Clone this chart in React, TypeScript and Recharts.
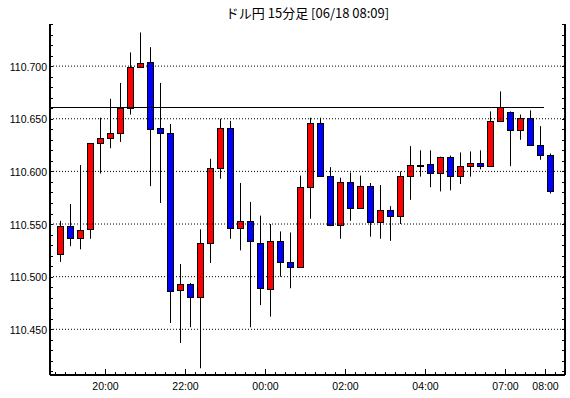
import React from "react";
import { ComposedChart, Bar, XAxis, YAxis, ReferenceLine } from "recharts";

const times = ["18:45","19:00","19:15","19:30","19:45","20:00","20:15","20:30","20:45","21:00","21:15","21:30","21:45","22:00","22:15","22:30","22:45","23:00","23:15","23:30","23:45","00:00","00:15","00:30","00:45","01:00","01:15","01:30","01:45","02:00","02:15","02:30","02:45","03:00","03:15","03:30","03:45","04:00","04:15","04:30","04:45","05:00","05:15","05:30","05:45","07:00","07:15","07:30","07:45","08:00"];

const opens = [110.522,110.548,110.537,110.545,110.627,110.632,110.636,110.660,110.699,110.704,110.641,110.636,110.487,110.493,110.481,110.532,110.603,110.641,110.546,110.553,110.532,110.488,110.534,110.514,110.509,110.585,110.646,110.596,110.549,110.590,110.565,110.586,110.552,110.563,110.558,110.596,110.606,110.607,110.598,110.614,110.596,110.605,110.608,110.605,110.648,110.656,110.639,110.651,110.625,110.616];
const highs = [110.553,110.569,110.606,110.627,110.651,110.669,110.684,110.713,110.732,110.718,110.684,110.645,110.512,110.494,110.545,110.612,110.650,110.648,110.589,110.571,110.558,110.550,110.543,110.542,110.596,110.651,110.651,110.604,110.594,110.599,110.596,110.589,110.587,110.567,110.600,110.624,110.620,110.620,110.614,110.615,110.618,110.619,110.620,110.657,110.676,110.657,110.654,110.658,110.643,110.617];
const lows = [110.514,110.529,110.526,110.536,110.598,110.622,110.628,110.654,110.699,110.586,110.570,110.456,110.437,110.452,110.413,110.513,110.593,110.536,110.525,110.452,110.473,110.462,110.500,110.489,110.509,110.555,110.595,110.548,110.536,110.553,110.565,110.538,110.536,110.534,110.550,110.573,110.595,110.585,110.581,110.582,110.588,110.595,110.602,110.605,110.647,110.605,110.630,110.625,110.611,110.579];
const closes = [110.548,110.537,110.544,110.627,110.632,110.636,110.660,110.699,110.703,110.640,110.636,110.486,110.493,110.481,110.532,110.603,110.641,110.546,110.553,110.534,110.489,110.534,110.514,110.509,110.585,110.646,110.596,110.549,110.590,110.565,110.586,110.552,110.563,110.558,110.596,110.606,110.6065,110.598,110.614,110.596,110.605,110.608,110.605,110.648,110.661,110.639,110.651,110.625,110.616,110.581];

const xLabels = ["20:00","22:00","00:00","02:00","04:00","07:00","08:00"];
const yTicks = [110.41,110.42,110.43,110.44,110.45,110.46,110.47,110.48,110.49,110.5,110.51,110.52,110.53,110.54,110.55,110.56,110.57,110.58,110.59,110.6,110.61,110.62,110.63,110.64,110.65,110.66,110.67,110.68,110.69,110.7,110.71,110.72,110.73,110.74];
const yLabels = ["110.450","110.500","110.550","110.600","110.650","110.700"];
const gridValues = [110.45,110.5,110.55,110.6,110.65,110.7];
const markerValue = 110.661;
const yDomain = [110.4066, 110.74];
const title = "ドル円 15分足 [06/18 08:09]";

const data = times.map((t, i) => ({
  t,
  o: opens[i],
  h: highs[i],
  l: lows[i],
  c: closes[i],
  range: [lows[i], highs[i]],
}));

const FONT = "'Liberation Sans', Arial, sans-serif";

const Candle = (props: any) => {
  const { x, y, width, height, payload } = props;
  if (x == null || y == null) return null;
  const top = Math.min(y, y + height);
  const hgt = Math.abs(height);
  const { o, h, l, c } = payload;
  const py = (v: number) => top + ((h - v) / (h - l)) * hgt;
  const cx = Math.round(x + width / 2) + 0.5;
  const up = c >= o;
  const yt = Math.round(py(Math.max(o, c))) + 0.5;
  let yb = Math.round(py(Math.min(o, c))) + 0.5;
  if (yb - yt < 1) yb = yt + 1;
  return (
    <g>
      <line x1={cx} x2={cx} y1={py(h)} y2={py(l)} stroke="#000" strokeWidth={1} />
      <rect x={cx - 3} y={yt} width={6} height={yb - yt} fill={up ? "#FF0000" : "#0000FF"} stroke="#000" strokeWidth={1} />
    </g>
  );
};

const BottomTick = (props: any) => {
  const { x, y, payload } = props;
  const t = payload.value;
  const bx = Math.round(x - 5) + 0.5;
  const major = xLabels.includes(t);
  const last = t === times[times.length - 1];
  return (
    <g>
      <line x1={bx} x2={bx} y1={y} y2={y - (major ? 6 : 3)} stroke="#000" strokeWidth={1} />
      {last && <line x1={bx + 10} x2={bx + 10} y1={y} y2={y - 3} stroke="#000" strokeWidth={1} />}
      {major && (
        <text x={bx} y={y + 15} textAnchor="middle" fontSize={10.5} fontFamily={FONT} fill="#000">
          {t}
        </text>
      )}
    </g>
  );
};

const TopTick = (props: any) => {
  const { x, y, payload } = props;
  const t = payload.value;
  const bx = Math.round(x - 5) + 0.5;
  const major = xLabels.includes(t);
  const last = t === times[times.length - 1];
  return (
    <g>
      <line x1={bx} x2={bx} y1={y} y2={y + (major ? 6 : 3)} stroke="#000" strokeWidth={1} />
      {last && <line x1={bx + 10} x2={bx + 10} y1={y} y2={y + 3} stroke="#000" strokeWidth={1} />}
    </g>
  );
};

const LeftTick = (props: any) => {
  const { x, y, payload } = props;
  const lab = Number(payload.value).toFixed(3);
  const yy = Math.round(y) + 0.5;
  return (
    <g>
      <line x1={x} x2={x + 3} y1={yy} y2={yy} stroke="#000" strokeWidth={1} />
      {yLabels.includes(lab) && (
        <text x={x - 3} y={y + 4.5} textAnchor="end" fontSize={10.5} fontFamily={FONT} fill="#000">
          {lab}
        </text>
      )}
    </g>
  );
};

const RightTick = (props: any) => {
  const { x, y } = props;
  const yy = Math.round(y) + 0.5;
  return <line x1={x} x2={x - 3} y1={yy} y2={yy} stroke="#000" strokeWidth={1} />;
};

const MarkerShape = (props: any) => {
  const { x1, y1, x2 } = props;
  const yy = Math.round(y1) + 0.5;
  return <line x1={x1} x2={x2 - 21} y1={yy} y2={yy} stroke="#000" strokeWidth={1} />;
};

export default function App() {
  return (
    <div style={{ position: "absolute", left: 0, top: 0, width: 570, height: 398, background: "#fff" }}>
      <svg width={570} height={24} style={{ position: "absolute", left: 0, top: 0 }}>
        <text x={307.5} y={18} textAnchor="middle" fontSize={13} fontFamily="'Noto Sans CJK JP', sans-serif" fill="#000">
          {title}
        </text>
      </svg>
      <div style={{ position: "absolute", left: 0, top: 0 }}>
        <ComposedChart width={570} height={398} data={data} margin={{ top: 24, right: 0, bottom: 0, left: 0 }}>
          <XAxis
            xAxisId={0}
            dataKey="t"
            type="category"
            orientation="bottom"
            height={23}
            padding={{ left: 5, right: 10 }}
            interval={0}
            tickLine={false}
            tickSize={0}
            tickMargin={0}
            axisLine={{ stroke: "#000", strokeWidth: 2 }}
            tick={<BottomTick />}
          />
          <XAxis
            xAxisId="top"
            dataKey="t"
            type="category"
            orientation="top"
            height={0}
            padding={{ left: 5, right: 10 }}
            interval={0}
            tickLine={false}
            tickSize={0}
            tickMargin={0}
            axisLine={{ stroke: "#000", strokeWidth: 2 }}
            tick={<TopTick />}
          />
          <YAxis
            yAxisId={0}
            orientation="left"
            width={50}
            type="number"
            domain={yDomain}
            allowDataOverflow
            ticks={yTicks}
            interval={0}
            tickLine={false}
            tickSize={0}
            tickMargin={0}
            axisLine={{ stroke: "#000", strokeWidth: 2 }}
            tick={<LeftTick />}
          />
          <YAxis
            yAxisId="r"
            orientation="right"
            width={5}
            type="number"
            domain={yDomain}
            allowDataOverflow
            ticks={yTicks}
            interval={0}
            tickLine={false}
            tickSize={0}
            tickMargin={0}
            axisLine={{ stroke: "#000", strokeWidth: 2 }}
            tick={<RightTick />}
          />
          {gridValues.map((v) => (
            <ReferenceLine key={v} xAxisId={0} yAxisId={0} y={v} stroke="#000" strokeWidth={1} strokeDasharray="1 2" />
          ))}
          <Bar xAxisId={0} yAxisId={0} dataKey="range" shape={<Candle />} isAnimationActive={false} />
          <ReferenceLine xAxisId={0} yAxisId={0} y={markerValue} shape={<MarkerShape />} />
        </ComposedChart>
      </div>
    </div>
  );
}
